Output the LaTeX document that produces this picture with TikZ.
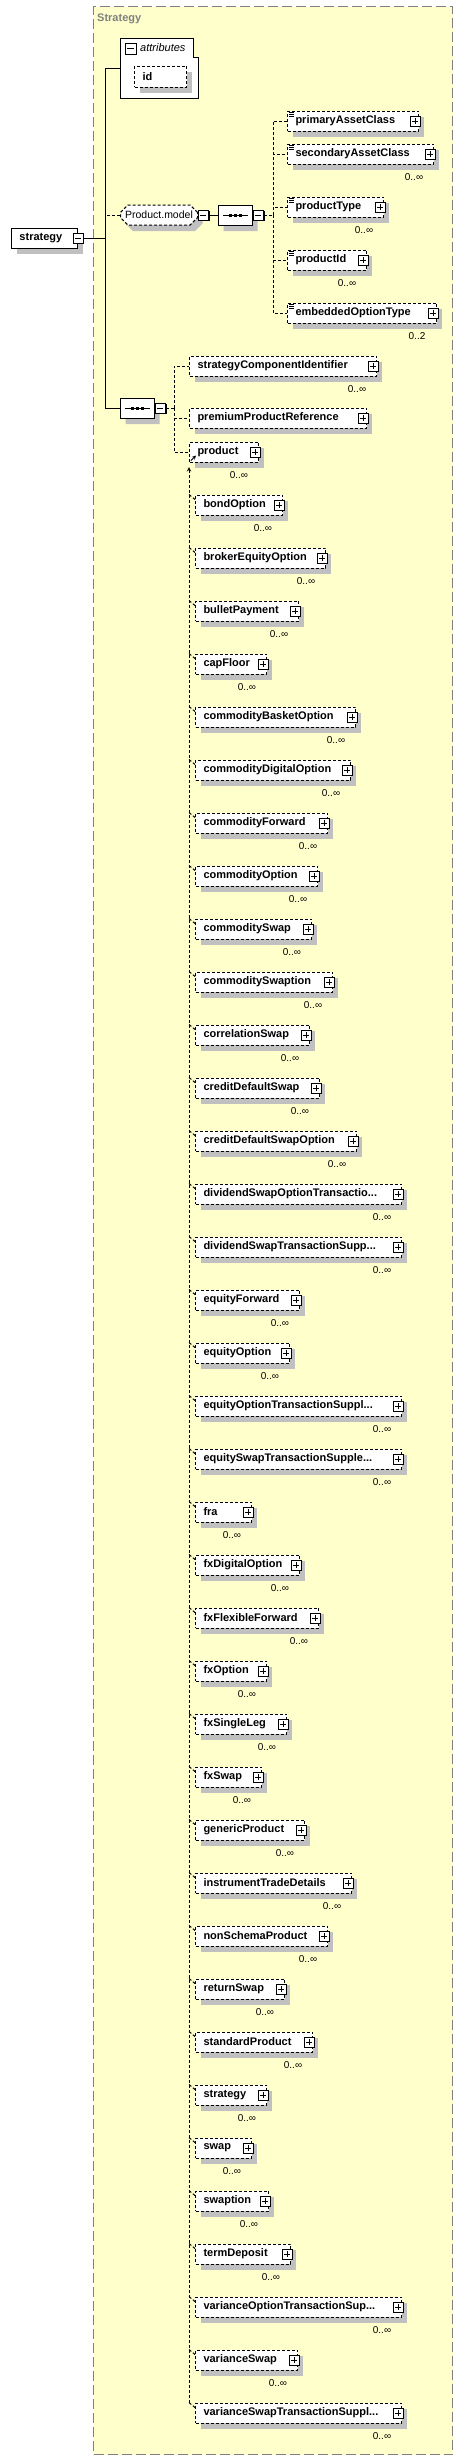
\documentclass[tikz,border=0pt]{standalone}
\usepackage{fontspec}
\setmainfont{Liberation Sans}
\usepackage{tikz}
\usetikzlibrary{shapes,arrows,positioning,calc,shadows,fit,backgrounds}
\definecolor{groupfill}{RGB}{255,255,204}
\definecolor{shade}{RGB}{192,192,192}
\hyphenpenalty=10000
\exhyphenpenalty=10000

\begin{document}
\begin{tikzpicture}[
    x=1pt, y=-1pt,
    conn/.style={line width=1pt},
    optconn/.style={line width=1pt, dash pattern=on 3pt off 2pt},
    groupbox/.style={rectangle, draw=gray, fill=groupfill, line width=1.2pt, dash pattern=on 10pt off 4pt, anchor=north west, inner sep=0pt},
    grouptitle/.style={font=\fontsize{11}{13}\selectfont\bfseries, text=gray, anchor=west, inner sep=0pt},
    elem/.style={rectangle, draw=black, line width=1pt, fill=white, anchor=west, font=\fontsize{11}{13}\selectfont\bfseries, text width=#1, align=left, inner xsep=8pt, inner ysep=2pt, minimum height=20pt, drop shadow={shadow xshift=5pt, shadow yshift=-6pt, fill=shade, opacity=1}},
    optelem/.style={elem=#1, dash pattern=on 3pt off 2pt},
    under/.style={below=32pt of #1.south west, anchor=north west},
    compositor/.style={chamfered rectangle, chamfered rectangle xsep=5pt, draw=black, line width=1pt, fill=white, anchor=west, minimum width=34pt, minimum height=20pt, inner sep=0pt, drop shadow={shadow xshift=5pt, shadow yshift=-6pt, fill=shade, opacity=1}},
    pmbox/.style={rectangle, draw=black, line width=0.8pt, fill=white, minimum size=10pt, inner sep=0pt, drop shadow={shadow xshift=1.3pt, shadow yshift=-1.3pt, fill=black, opacity=1}},
    pmplus/.style={pmbox, path picture={
        \draw[line width=0.8pt] ([xshift=2pt]path picture bounding box.west) -- ([xshift=-2pt]path picture bounding box.east);
        \draw[line width=0.8pt] ([yshift=-2pt]path picture bounding box.north) -- ([yshift=2pt]path picture bounding box.south);}},
    pmminus/.style={pmbox, path picture={
        \draw[line width=0.8pt] ([xshift=2pt]path picture bounding box.west) -- ([xshift=-2pt]path picture bounding box.east);}},
    mult/.style={font=\fontsize{10}{12}\selectfont, inner sep=0pt}
]
\useasboundingbox (0,0) rectangle (462,2460);

% Group
\node[groupbox, minimum width=359pt, minimum height=2448pt] (group) at (93,6) {};
\node[grouptitle] (groupTitle) at (97,19) {Strategy};

% Root element
\node[elem=50] (strategy) at (11,238) {strategy};
\node[pmminus] (strategyPm) at (strategy.east) {};

% Attributes
\draw[conn, fill=white] (120,38) -| (193,57) -| (198,98) -| (120,38) -- cycle;
\node[pmminus, minimum size=11pt] (attrsPm) at (130.5,48.5) {};
\node[font=\fontsize{11}{13}\selectfont\itshape, anchor=west, inner sep=0pt] (attrsTitle) at (140,48) {attributes};
\node[optelem=36, minimum height=21pt] (id) at (134,76.5) {id};

% Product.model group
\node[compositor, dash pattern=on 3pt off 2pt, minimum width=77pt, font=\fontsize{10.5}{12}\selectfont] (productModel) at (120,215) {Product.model};
\node[pmminus, anchor=west] (productModelPm) at (productModel.east) {};
\node[compositor] (seqModel) at (218,215) {};
\node[pmminus, anchor=west] (seqModelPm) at (seqModel.east) {};

\node[optelem=115] (primaryAssetClass) at (287,121) {primaryAssetClass};
\node[optelem=130] (secondaryAssetClass) at (287,154) {secondaryAssetClass};
\node[optelem=80] (productType) at (287,207) {productType};
\node[optelem=63] (productId) at (287,260) {productId};
\node[optelem=133] (embeddedOptionType) at (287,313) {embeddedOptionType};

% Main sequence
\node[compositor] (seqMain) at (120,408) {};
\node[pmminus, anchor=west] (seqMainPm) at (seqMain.east) {};

\node[optelem=171] (strategyComponentIdentifier) at (189,366) {strategyComponentIdentifier};
\node[optelem=161] (premiumProductReference) at (189,418) {premiumProductReference};
\node[optelem=53] (product) at (189,452) {product};

% Substitution group of product
\node[optelem=71] (bondOption) at (195,505) {bondOption};
\node[optelem=114, under=bondOption] (brokerEquityOption) {brokerEquityOption};
\node[optelem=87, under=brokerEquityOption] (bulletPayment) {bulletPayment};
\node[optelem=55, under=bulletPayment] (capFloor) {capFloor};
\node[optelem=144, under=capFloor] (commodityBasketOption) {commodityBasketOption};
\node[optelem=139, under=commodityBasketOption] (commodityDigitalOption) {commodityDigitalOption};
\node[optelem=116, under=commodityDigitalOption] (commodityForward) {commodityForward};
\node[optelem=106, under=commodityForward] (commodityOption) {commodityOption};
\node[optelem=100, under=commodityOption] (commoditySwap) {commoditySwap};
\node[optelem=121, under=commoditySwap] (commoditySwaption) {commoditySwaption};
\node[optelem=98, under=commoditySwaption] (correlationSwap) {correlationSwap};
\node[optelem=108, under=correlationSwap] (creditDefaultSwap) {creditDefaultSwap};
\node[optelem=145, under=creditDefaultSwap] (creditDefaultSwapOption) {creditDefaultSwapOption};
\node[optelem=190, under=creditDefaultSwapOption] (divSwapOptTrans) {dividendSwapOptionTransactio...};
\node[optelem=190, under=divSwapOptTrans] (divSwapTransSupp) {dividendSwapTransactionSupp...};
\node[optelem=88, under=divSwapTransSupp] (equityForward) {equityForward};
\node[optelem=78, under=equityForward] (equityOption) {equityOption};
\node[optelem=190, under=equityOption] (eqOptTransSupp) {equityOptionTransactionSuppl...};
\node[optelem=190, under=eqOptTransSupp] (eqSwapTransSupp) {equitySwapTransactionSupple...};
\node[optelem=40, under=eqSwapTransSupp] (fra) {fra};
\node[optelem=88, under=fra] (fxDigitalOption) {fxDigitalOption};
\node[optelem=107, under=fxDigitalOption] (fxFlexibleForward) {fxFlexibleForward};
\node[optelem=55, under=fxFlexibleForward] (fxOption) {fxOption};
\node[optelem=75, under=fxOption] (fxSingleLeg) {fxSingleLeg};
\node[optelem=50, under=fxSingleLeg] (fxSwap) {fxSwap};
\node[optelem=93, under=fxSwap] (genericProduct) {genericProduct};
\node[optelem=140, under=genericProduct] (instrumentTradeDetails) {instrumentTradeDetails};
\node[optelem=116, under=instrumentTradeDetails] (nonSchemaProduct) {nonSchemaProduct};
\node[optelem=73, under=nonSchemaProduct] (returnSwap) {returnSwap};
\node[optelem=101, under=returnSwap] (standardProduct) {standardProduct};
\node[optelem=55, under=standardProduct] (strategyRef) {strategy};
\node[optelem=40, under=strategyRef] (swap) {swap};
\node[optelem=57, under=swap] (swaption) {swaption};
\node[optelem=79, under=swaption] (termDeposit) {termDeposit};
\node[optelem=190, under=termDeposit] (varOptTransSup) {varianceOptionTransactionSup...};
\node[optelem=86, under=varOptTransSup] (varianceSwap) {varianceSwap};
\node[optelem=190, under=varianceSwap] (varSwapTransSupp) {varianceSwapTransactionSuppl...};

% Connections
\coordinate (trunk) at (105,238);
\coordinate (attrs) at (120,68);
\coordinate (forkModel) at (273,215);
\coordinate (forkMain) at (174,408);
\coordinate (substTop) at (189,467);

\draw[conn] (strategyPm.east) -- (trunk);
\draw[conn] (trunk) |- (attrs);
\draw[conn] (trunk) |- (seqMain.west);
\draw[optconn] (trunk) |- (productModel.west);
\draw[conn] (productModelPm.east) -- (seqModel.west);
\draw[optconn] (seqModelPm.east) -- (forkModel);
\foreach \n in {primaryAssetClass,secondaryAssetClass,productType,productId,embeddedOptionType}
    \draw[optconn] (forkModel) |- (\n.west);
\draw[optconn] (seqMainPm.east) -- (forkMain);
\foreach \n in {strategyComponentIdentifier,premiumProductReference,product}
    \draw[optconn] (forkMain) |- (\n.west);

% sequence symbols
\foreach \s in {seqModel,seqMain} {
    \draw[conn] ([xshift=5pt]\s.west) -- ([xshift=-5pt]\s.east);
    \foreach \d in {-5pt,0pt,5pt}
        \fill ([xshift=\d]\s.center) +(-1.5pt,-1.5pt) rectangle +(1.5pt,1.5pt);
}

% simple content marks
\foreach \n in {primaryAssetClass,secondaryAssetClass,productType,productId,embeddedOptionType}
    \foreach \k in {2pt,4pt,6pt}
        \draw[line width=0.6pt] ([xshift=2pt,yshift=-\k]\n.north west) -- ++(5pt,0pt);

% abstract product
\draw[line width=0.8pt, ->, >=stealth] ([shift={(2pt,2pt)}]product.south west) -- ++(5pt,5pt);
\draw[optconn, <-, >=stealth] (substTop) -- (substTop |- varSwapTransSupp.north);

% plus boxes and occurrences
\foreach \n in {primaryAssetClass,secondaryAssetClass,productType,productId,embeddedOptionType,
    strategyComponentIdentifier,premiumProductReference,product}
    \node[pmplus] (\n-pm) at ([xshift=-4pt]\n.east) {};
\foreach \n in {secondaryAssetClass,productType,productId,strategyComponentIdentifier,product}
    \node[mult] (\n-mult) at ([xshift=-20pt,yshift=-13pt]\n.south east) {0..∞};
\node[mult] (embeddedOptionType-mult) at ([xshift=-20pt,yshift=-13pt]embeddedOptionType.south east) {0..2};

\foreach \n in {bondOption,brokerEquityOption,bulletPayment,capFloor,commodityBasketOption,
    commodityDigitalOption,commodityForward,commodityOption,commoditySwap,commoditySwaption,
    correlationSwap,creditDefaultSwap,creditDefaultSwapOption,divSwapOptTrans,divSwapTransSupp,
    equityForward,equityOption,eqOptTransSupp,eqSwapTransSupp,fra,fxDigitalOption,
    fxFlexibleForward,fxOption,fxSingleLeg,fxSwap,genericProduct,instrumentTradeDetails,
    nonSchemaProduct,returnSwap,standardProduct,strategyRef,swap,swaption,termDeposit,
    varOptTransSup,varianceSwap,varSwapTransSupp} {
    \draw[optconn] (substTop |- \n.north) -- ([yshift=-5pt]\n.north west);
    \node[pmplus] (\n-pm) at ([xshift=-4pt]\n.east) {};
    \node[mult] (\n-mult) at ([xshift=-20pt,yshift=-13pt]\n.south east) {0..∞};
}

\end{tikzpicture}
\end{document}
